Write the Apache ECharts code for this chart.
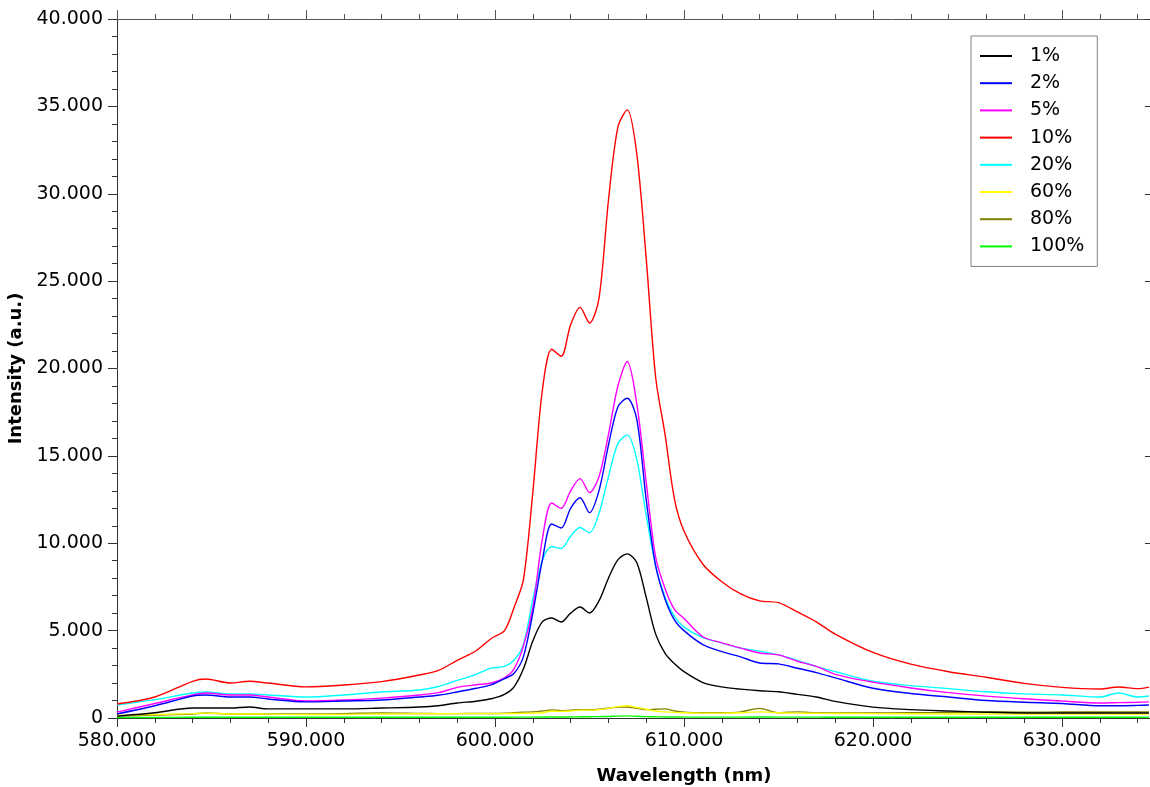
<!DOCTYPE html>
<html>
<head>
<meta charset="utf-8">
<script src="https://cdn.jsdelivr.net/npm/echarts@6/dist/echarts.min.js"></script>
<style>
  html, body { margin: 0; padding: 0; background: #fff; }
  #chart { width: 1150px; height: 787px; }
</style>
</head>
<body>
<div id="chart"></div>
<script>
// wavelength grid (nm)
const wavelength = [580, 582, 584, 584.7, 586, 587, 588, 590, 592, 594, 596, 597, 598, 599, 599.8,
  600.5, 601, 601.5, 602, 602.5, 603, 603.5, 604, 604.5, 605, 605.5, 606, 606.5, 607, 607.5,
  608, 608.5, 609, 609.5, 610, 611, 612, 613, 614, 615, 616, 617, 618, 620, 622, 624, 626,
  628, 630, 632, 633, 634, 634.6];

const seriesNames = ['1%', '2%', '5%', '10%', '20%', '60%', '80%', '100%'];

const int1 = [110, 300, 570, 570, 570, 630, 520, 520, 520, 570, 630, 700, 860, 960, 1100,
  1350, 1770, 2800, 4400, 5500, 5720, 5490, 6000, 6350, 6010, 6700, 8000, 9050, 9390, 8900,
  6900, 4800, 3700, 3100, 2650, 2030, 1780, 1650, 1560, 1500, 1350, 1200, 950, 620, 480, 400, 330,
  290, 290, 290, 290, 290, 290];
const int2 = [230, 700, 1260, 1320, 1200, 1200, 1090, 920, 970, 1030, 1200, 1300, 1490, 1700, 1900,
  2250, 2550, 3500, 6000, 9000, 11100, 10870, 12000, 12600, 11750, 13000, 15600, 17800, 18300, 17100,
  12500, 8700, 6800, 5600, 5000, 4200, 3800, 3500, 3150, 3100, 2850, 2600, 2300, 1700, 1400, 1200, 1000,
  900, 830, 700, 700, 720, 740];
const int5 = [340, 830, 1320, 1430, 1320, 1320, 1200, 970, 1030, 1140, 1320, 1450, 1750, 1900, 2000,
  2300, 2800, 4100, 6300, 10200, 12300, 12000, 13000, 13700, 12900, 13800, 16200, 19000, 20400, 18000,
  13500, 9200, 7400, 6200, 5700, 4650, 4300, 4000, 3720, 3610, 3250, 2950, 2500, 2050, 1720, 1450, 1250,
  1100, 970, 860, 880, 900, 920];
const int10 = [800, 1200, 2100, 2230, 2000, 2100, 2000, 1780, 1890, 2080, 2460, 2720, 3300, 3850, 4550,
  5000, 6300, 7900, 12900, 18700, 21100, 20700, 22500, 23500, 22600, 24000, 29600, 33800, 34800, 32300,
  26300, 19500, 16200, 12500, 10700, 8800, 7800, 7100, 6700, 6600, 6070, 5500, 4800, 3750, 3080, 2650, 2330,
  1980, 1750, 1660, 1770, 1680, 1770];
const int20 = [740, 1050, 1430, 1490, 1370, 1370, 1320, 1200, 1320, 1490, 1600, 1800, 2150, 2500, 2850,
  2950, 3300, 4200, 6800, 9000, 9800, 9700, 10400, 10900, 10600, 11700, 13800, 15700, 16200, 14800,
  11600, 8700, 6900, 5800, 5200, 4600, 4300, 4000, 3830, 3610, 3300, 2950, 2650, 2100, 1850, 1680, 1500,
  1380, 1320, 1200, 1430, 1200, 1260];
const int60 = [150, 200, 250, 280, 230, 230, 220, 200, 210, 230, 240, 240, 250, 250, 250,
  250, 260, 270, 280, 300, 400, 380, 400, 450, 450, 480, 550, 650, 700, 600,
  500, 400, 350, 320, 300, 280, 280, 300, 350, 300, 280, 270, 260, 250, 240, 230, 230,
  230, 230, 230, 230, 230, 230];
const int80 = [110, 170, 230, 290, 230, 230, 230, 230, 250, 290, 260, 250, 250, 260, 260,
  270, 300, 330, 350, 400, 460, 420, 450, 480, 470, 500, 560, 620, 630, 560,
  480, 500, 520, 400, 330, 300, 300, 350, 550, 300, 350, 300, 290, 290, 300, 310, 350,
  330, 340, 340, 350, 350, 350];
const int100 = [20, 30, 40, 50, 40, 40, 40, 40, 40, 50, 40, 40, 40, 40, 40,
  40, 50, 50, 50, 60, 60, 60, 60, 70, 70, 80, 90, 110, 120, 100,
  80, 70, 60, 60, 50, 50, 50, 50, 60, 50, 50, 50, 40, 40, 40, 40, 40,
  40, 40, 40, 40, 40, 40];

const seriesValues = [int1, int2, int5, int10, int20, int60, int80, int100];
const colors = ['#000000', '#0000ff', '#ff00ff', '#ff0000', '#00ffff', '#ffff00', '#808000', '#00ff00'];

// the x axis runs on past the right edge of the picture, so the scale goes to 640
const xTicks = { min: 580, max: 640, interval: 10 };
const yTicks = { min: 0, max: 40000, interval: 5000 };

const font = 'DejaVu Sans';
const axisColor = '#333';

// 40000 -> "40.000"
function thousands(v) {
  if (v === 0) return '0';
  const s = String(Math.round(v));
  return s.replace(/\B(?=(\d{3})+(?!\d))/g, '.');
}

const chart = echarts.init(document.getElementById('chart'), null, { renderer: 'canvas' });

const series = seriesNames.map((name, i) => ({
  name: name,
  type: 'line',
  data: wavelength.map((w, j) => [w, seriesValues[i][j]]),
  showSymbol: false,
  smooth: 0.3,
  lineStyle: { color: colors[i], width: 1.4 },
  itemStyle: { color: colors[i] },
  z: 10 - i,
}));

chart.setOption({
  animation: false,
  backgroundColor: '#fff',
  grid: { left: 117, top: 19, right: -101, bottom: 69, containLabel: false, outerBoundsMode: 'none' },
  legend: {
    orient: 'vertical',
    left: 971,
    top: 36,
    padding: [10, 13, 10, 9],
    borderColor: '#808080',
    borderWidth: 1,
    itemWidth: 32,
    itemHeight: 2,
    itemGap: 7.2,
    icon: 'rect',
    textStyle: { fontFamily: font, fontSize: 19, color: '#000', lineHeight: 20, padding: [0, 0, 0, 13] },
    data: seriesNames,
  },
  xAxis: [
    {
      type: 'value',
      min: xTicks.min,
      max: xTicks.max,
      interval: xTicks.interval,
      name: 'Wavelength (nm)',
      nameLocation: 'middle',
      nameGap: 49,
      nameTextStyle: { fontFamily: font, fontSize: 18, fontWeight: 'bold', color: '#000' },
      axisLine: { show: true, lineStyle: { color: axisColor, width: 1 } },
      axisTick: { show: true, length: 9, lineStyle: { color: axisColor } },
      minorTick: { show: true, splitNumber: 5, length: 5, lineStyle: { color: axisColor } },
      splitLine: { show: false },
      axisLabel: {
        fontFamily: font, fontSize: 19, color: '#000', margin: 14,
        showMaxLabel: false,
        formatter: v => v.toFixed(3),
      },
    },
    {
      type: 'value',
      position: 'top',
      min: xTicks.min,
      max: xTicks.max,
      interval: xTicks.interval,
      axisLine: { show: true, onZero: false, lineStyle: { color: '#555', width: 1 } },
      axisTick: { show: true, length: 9, lineStyle: { color: '#555' } },
      minorTick: { show: true, splitNumber: 5, length: 5, lineStyle: { color: '#555' } },
      splitLine: { show: false },
      axisLabel: { show: false },
    },
  ],
  yAxis: [
    {
      type: 'value',
      min: yTicks.min,
      max: yTicks.max,
      interval: yTicks.interval,
      name: 'Intensity (a.u.)',
      nameLocation: 'middle',
      nameRotate: 90,
      nameGap: 80,
      nameTextStyle: { fontFamily: font, fontSize: 18, fontWeight: 'bold', color: '#000' },
      axisLine: { show: true, lineStyle: { color: axisColor, width: 1 } },
      axisTick: { show: true, length: 9, lineStyle: { color: axisColor } },
      minorTick: { show: true, splitNumber: 5, length: 5, lineStyle: { color: axisColor } },
      splitLine: { show: false },
      axisLabel: { fontFamily: font, fontSize: 19, color: '#000', margin: 14, formatter: thousands },
    },
    {
      type: 'value',
      position: 'right',
      offset: -101,
      min: yTicks.min,
      max: yTicks.max,
      interval: yTicks.interval,
      axisLine: { show: false },
      axisTick: { show: true, inside: true, length: 5, lineStyle: { color: axisColor } },
      splitLine: { show: false },
      axisLabel: { show: false },
    },
  ],
  series: series,
});
</script>
</body>
</html>
